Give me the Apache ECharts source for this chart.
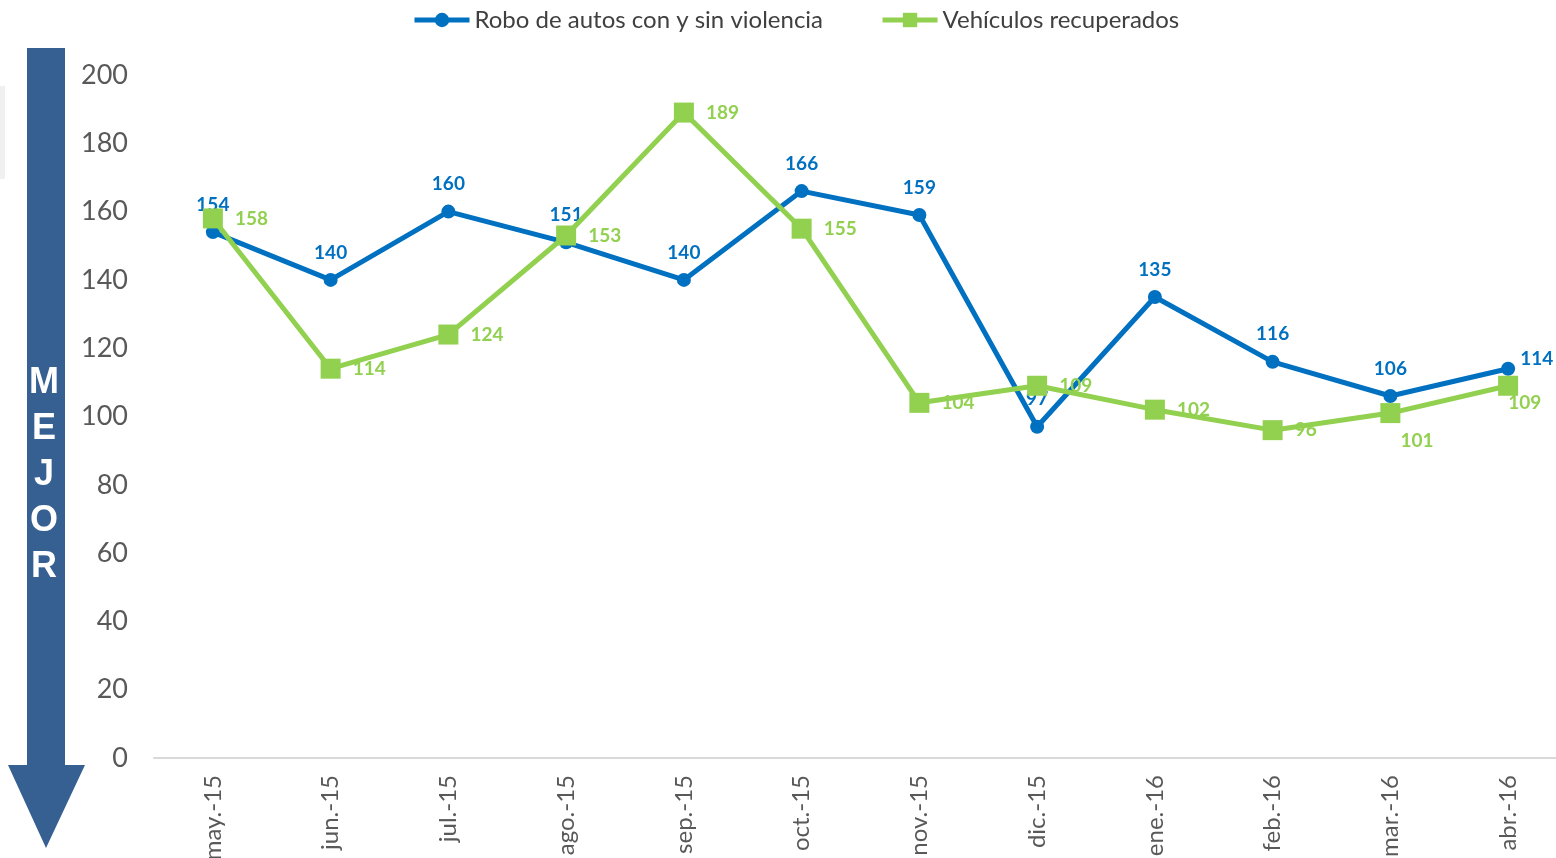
<!DOCTYPE html>
<html>
<head>
<meta charset="utf-8">
<script src="https://cdn.jsdelivr.net/npm/echarts@6/dist/echarts.min.js"></script>
<style>
html,body{margin:0;padding:0;background:#fff;}
#chart{width:1556px;height:858px;}
</style>
</head>
<body>
<div id="chart"></div>
<script>
const categories = ['may.-15','jun.-15','jul.-15','ago.-15','sep.-15','oct.-15','nov.-15','dic.-15','ene.-16','feb.-16','mar.-16','abr.-16'];
const robo = [154,140,160,151,140,166,159,97,135,116,106,114];
const recuperados = [158,114,124,153,189,155,104,109,102,96,101,109];
const yTicks = [0,20,40,60,80,100,120,140,160,180,200];

const BLUE = '#0070C0';
const GREEN = '#92D050';
const ARROW = '#376092';
const FONT = 'Lato, "Open Sans", sans-serif';

const roboData = robo.map((v,i) => i === 11 ? {value:v, label:{position:'right', distance:8, offset:[-3,-10]}} : v);
const recData = recuperados.map((v,i) => {
  if (i === 10) return {value:v, label:{offset:[-12,28]}};
  if (i === 11) return {value:v, label:{offset:[-22,17]}};
  return v;
});

const chart = echarts.init(document.getElementById('chart'));
chart.setOption({
  animation:false,
  backgroundColor:'#fff',
  textStyle:{fontFamily:FONT},
  legend:{
    top:3, left:407,
    itemWidth:55, itemHeight:18, itemGap:57,
    lineStyle:{width:5},
    textStyle:{fontSize:24, color:'#404040', fontFamily:FONT},
    data:['Robo de autos con y sin violencia','Vehículos recuperados']
  },
  grid:{left:154, top:75, width:1413, height:683, containLabel:false, outerBoundsMode:'none'},
  xAxis:{
    type:'category', data:categories, boundaryGap:true,
    axisLine:{lineStyle:{color:'#d9d9d9', width:2}},
    axisTick:{show:false},
    axisLabel:{rotate:90, margin:17, fontSize:24, color:'#595959', fontFamily:FONT}
  },
  yAxis:{
    type:'value', min:yTicks[0], max:yTicks[yTicks.length-1], interval:20,
    axisLine:{show:false}, axisTick:{show:false}, splitLine:{show:false},
    axisLabel:{margin:26, fontSize:27, color:'#595959', fontFamily:FONT}
  },
  series:[
    {
      name:'Robo de autos con y sin violencia', type:'line', data:roboData,
      symbol:'circle', symbolSize:14,
      lineStyle:{color:BLUE, width:5}, itemStyle:{color:BLUE},
      label:{show:true, position:'top', distance:11, color:BLUE, fontWeight:'bold', fontSize:19, fontFamily:FONT},
      z:2
    },
    {
      name:'Vehículos recuperados', type:'line', data:recData,
      symbol:'rect', symbolSize:20,
      lineStyle:{color:GREEN, width:5}, itemStyle:{color:GREEN},
      label:{show:true, position:'right', distance:12, color:GREEN, fontWeight:'bold', fontSize:19, fontFamily:FONT},
      z:3
    }
  ],
  graphic:[
    {type:'rect', shape:{x:0,y:86,width:5,height:93}, style:{fill:'#f0f0f0'}, silent:true},
    {type:'polygon', shape:{points:[[27,48],[65,48],[65,765],[85,765],[46,848],[8,765],[27,765]]}, style:{fill:ARROW}, silent:true},
    {type:'text', x:44, y:360, style:{text:'M\nE\nJ\nO\nR', fill:'#fff', font:'bold 36px "Liberation Sans", Arial, sans-serif', lineHeight:46, textAlign:'center', textVerticalAlign:'top'}, silent:true, z:10}
  ]
});
</script>
</body>
</html>
